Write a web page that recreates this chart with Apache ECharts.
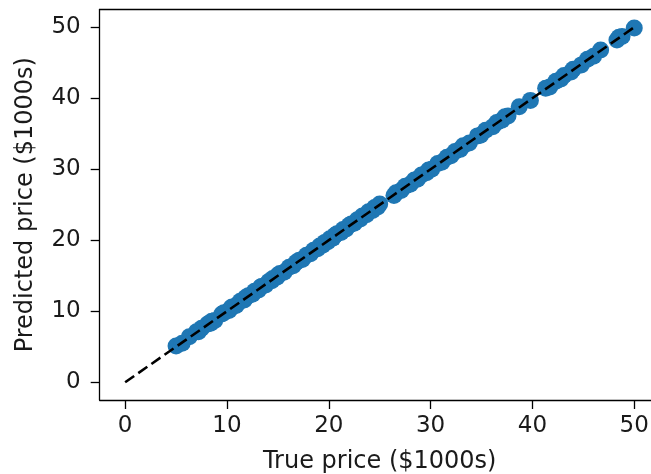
<!DOCTYPE html>
<html>
<head>
<meta charset="utf-8">
<script src="https://cdn.jsdelivr.net/npm/echarts@6/dist/echarts.min.js"></script>
<style>html,body{margin:0;padding:0;background:#fff}#c{width:651px;height:474px}</style>
</head>
<body>
<div id="c"></div>
<script>
const xTitle = 'True price ($1000s)';
const yTitle = 'Predicted price ($1000s)';
const tickValues = [0, 10, 20, 30, 40, 50];
const trueVals = [5.0, 5.6, 6.3, 7.0, 7.2, 7.5, 8.1, 8.4, 8.5, 8.8, 9.5, 9.7, 10.2, 10.4, 10.5, 10.9, 11.3, 11.7, 11.8, 12.1, 12.5, 12.7, 13.1, 13.3, 13.4, 13.8, 14.1, 14.4, 14.5, 14.9, 15.0, 15.2, 15.6, 16.1, 16.5, 16.8, 17.1, 17.4, 17.8, 18.2, 18.5, 18.9, 19.1, 19.4, 19.6, 19.9, 20.1, 20.4, 20.6, 20.8, 21.2, 21.4, 21.7, 22.0, 22.2, 22.5, 22.8, 23.1, 23.3, 23.7, 23.9, 24.3, 24.5, 24.8, 25.0, 26.4, 26.6, 27.1, 27.5, 28.0, 28.4, 28.7, 29.1, 29.6, 29.8, 30.1, 30.7, 31.1, 31.6, 32.0, 32.4, 32.9, 33.2, 33.8, 34.6, 34.9, 35.4, 36.1, 36.5, 37.0, 37.3, 37.6, 38.7, 39.8, 41.3, 41.7, 42.3, 42.8, 43.1, 43.8, 44.0, 44.8, 45.4, 46.0, 46.7, 48.3, 48.5, 48.8, 50.0];
const predVals = [5.1, 5.5, 6.4, 7.1, 7.1, 7.6, 8.2, 8.3, 8.6, 8.7, 9.6, 9.8, 10.1, 10.5, 10.6, 10.8, 11.4, 11.6, 11.9, 12.2, 12.4, 12.8, 13.0, 13.4, 13.5, 13.7, 14.2, 14.3, 14.6, 14.8, 15.1, 15.3, 15.5, 16.2, 16.4, 16.9, 17.2, 17.3, 17.9, 18.1, 18.6, 18.8, 19.2, 19.3, 19.7, 19.8, 20.2, 20.3, 20.7, 20.9, 21.1, 21.5, 21.6, 22.1, 22.3, 22.4, 22.9, 23.0, 23.4, 23.6, 24.0, 24.2, 24.6, 24.7, 25.1, 26.3, 26.7, 27.0, 27.6, 27.9, 28.5, 28.6, 29.2, 29.5, 29.9, 30.0, 30.8, 31.0, 31.7, 31.9, 32.5, 32.8, 33.3, 33.7, 34.7, 34.8, 35.5, 36.0, 36.6, 36.9, 37.4, 37.5, 38.8, 39.7, 41.4, 41.6, 42.4, 42.7, 43.2, 43.7, 44.1, 44.7, 45.5, 45.9, 46.8, 48.2, 48.6, 48.7, 49.9];
const refLine = [[0, 0], [50, 50]];

const points = trueVals.map((v, i) => [v, predVals[i]]);
const txt = '#1a1a1a';
const font = 'DejaVu Sans';

const chart = echarts.init(document.getElementById('c'), null, {renderer: 'canvas'});
chart.setOption({
  animation: false,
  backgroundColor: '#fff',
  grid: {left: 99.7, right: -8.7, top: 9.5, bottom: 74, show: false, outerBoundsMode: 'none', containLabel: false},
  xAxis: [{
    type: 'value', min: -2.5, max: 52.5, position: 'bottom',
    name: xTitle, nameLocation: 'middle', nameGap: 50,
    nameTextStyle: {color: txt, fontSize: 24, fontFamily: font},
    axisLine: {show: true, onZero: false, lineStyle: {color: '#000', width: 1.3}},
    axisTick: {show: true, length: 9, customValues: tickValues, lineStyle: {color: '#000', width: 1.3}},
    axisLabel: {customValues: tickValues, margin: 15, color: txt, fontSize: 23, fontFamily: font},
    splitLine: {show: false}
  }, {
    type: 'value', min: -2.5, max: 52.5, position: 'top',
    axisLine: {show: true, onZero: false, lineStyle: {color: '#000', width: 1.3}},
    axisTick: {show: false}, axisLabel: {show: false}, splitLine: {show: false}
  }],
  yAxis: {
    type: 'value', min: -2.5, max: 52.5,
    name: yTitle, nameLocation: 'middle', nameGap: 62,
    nameTextStyle: {color: txt, fontSize: 24, fontFamily: font},
    axisLine: {show: true, onZero: false, lineStyle: {color: '#000', width: 1.3}},
    axisTick: {show: true, length: 9, customValues: tickValues, lineStyle: {color: '#000', width: 1.3}},
    axisLabel: {customValues: tickValues, margin: 19, color: txt, fontSize: 23, fontFamily: font},
    splitLine: {show: false}
  },
  series: [
    {
      type: 'scatter', data: points, symbol: 'circle', symbolSize: 17,
      itemStyle: {color: '#1f77b4', opacity: 1}, z: 2
    },
    {
      type: 'line', data: refLine, symbol: 'none', z: 3,
      lineStyle: {color: '#000', width: 2.6, type: [11, 5]}
    }
  ]
});
</script>
</body>
</html>
